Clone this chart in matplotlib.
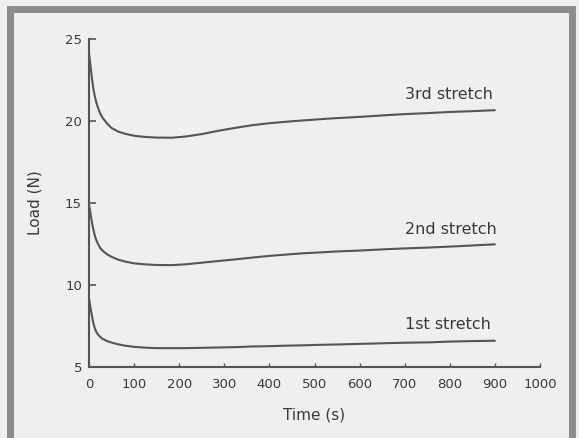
import matplotlib
matplotlib.use("Agg")
import matplotlib.pyplot as plt
from matplotlib.patches import Rectangle

time_s = [0, 2, 4, 6, 8, 10, 13, 16, 20, 25, 30, 40, 50, 65, 80, 100, 124, 150, 183, 213,
          250, 286, 324, 361, 398, 435, 472, 508, 545, 600, 656, 700, 750, 800, 850, 900]
stretch3 = [24.1, 23.7, 23.2, 22.7, 22.3, 21.9, 21.5, 21.15, 20.8, 20.45, 20.2, 19.85,
            19.57, 19.35, 19.22, 19.1, 19.03, 18.99, 18.98, 19.05, 19.2, 19.4, 19.58,
            19.74, 19.86, 19.95, 20.03, 20.1, 20.17, 20.25, 20.35, 20.42, 20.48, 20.55,
            20.6, 20.66]
stretch2 = [14.9, 14.6, 14.25, 13.9, 13.6, 13.35, 13.0, 12.75, 12.5, 12.25, 12.1, 11.87,
            11.72, 11.54, 11.43, 11.32, 11.26, 11.22, 11.21, 11.26, 11.36, 11.46, 11.56,
            11.67, 11.77, 11.85, 11.93, 11.98, 12.04, 12.1, 12.18, 12.23, 12.28, 12.34,
            12.41, 12.48]
stretch1 = [9.2, 8.85, 8.5, 8.2, 7.9, 7.65, 7.35, 7.15, 6.98, 6.83, 6.72, 6.58,
            6.49, 6.38, 6.3, 6.23, 6.18, 6.15, 6.15, 6.15, 6.17, 6.19, 6.21,
            6.25, 6.27, 6.3, 6.32, 6.35, 6.37, 6.41, 6.45, 6.48, 6.5, 6.55,
            6.58, 6.6]
series_labels = ["1st stretch", "2nd stretch", "3rd stretch"]
label_y = [7.6, 13.4, 21.6]
label_x = 700
x_ticks = [0, 100, 200, 300, 400, 500, 600, 700, 800, 900, 1000]
y_ticks = [5, 10, 15, 20, 25]

W, H = 579, 438
fig = plt.figure(figsize=(W / 100, H / 100), dpi=100)
fig.patch.set_facecolor("#efefef")

# scanned frame
fig.patches.append(Rectangle((10 / W, -0.05), 562 / W, 1.05 - 9 / H,
                             transform=fig.transFigure, fill=False,
                             edgecolor="#8c8c8c", linewidth=5, zorder=0))

ax = fig.add_axes([89 / W, (H - 367) / H, 451 / W, 328 / H])
ax.set_facecolor("none")
ink = "#555555"
for s in [stretch1, stretch2, stretch3]:
    ax.plot(time_s, s, color=ink, linewidth=1.5, solid_capstyle="round",
            solid_joinstyle="round")
for lab, y in zip(series_labels, label_y):
    ax.text(label_x, y, lab, ha="left", va="center", fontsize=11.5, color="#3a3a3a")

ax.set_xlim(0, 1000)
ax.set_ylim(5, 25)
ax.set_xticks(x_ticks)
ax.set_yticks(y_ticks)
ax.spines["top"].set_visible(False)
ax.spines["right"].set_visible(False)
for sp in ["left", "bottom"]:
    ax.spines[sp].set_color(ink)
    ax.spines[sp].set_linewidth(1.5)
ax.tick_params(axis="y", direction="in", length=5, width=1.2, color=ink,
               labelsize=9.5, labelcolor="#3a3a3a", pad=5)
ax.tick_params(axis="x", direction="in", length=3, width=1.0, color=ink,
               labelsize=9.5, labelcolor="#3a3a3a", pad=8)
ax.set_xlabel("Time (s)", fontsize=11, color="#3a3a3a", va="center")
ax.set_ylabel("Load (N)", fontsize=11, color="#3a3a3a", va="center")
ax.xaxis.set_label_coords(0.5, -0.146)
ax.yaxis.set_label_coords(-0.12, 0.5)

fig.savefig("out.png", dpi=100, facecolor=fig.get_facecolor())
